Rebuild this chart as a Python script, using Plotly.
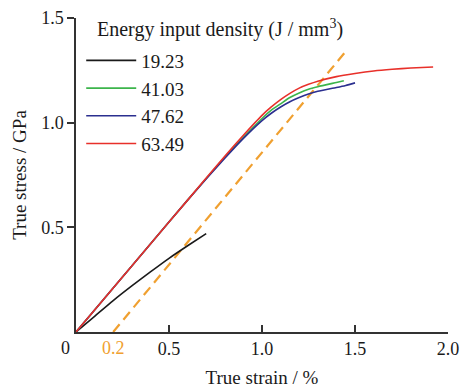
import plotly.graph_objects as go

legend_title = "Energy input density (J / mm<sup>3</sup>)"
series_names = ["19.23", "41.03", "47.62", "63.49"]
series_colors = ["#1a1a1a", "#3cb44b", "#2b2f8f", "#e8302a"]

x_1923 = [0, 0.1, 0.2, 0.3, 0.4, 0.5, 0.6, 0.7]
y_1923 = [0, 0.075, 0.15, 0.22, 0.287, 0.352, 0.412, 0.47]

x_4103 = [0, 0.2, 0.4, 0.6, 0.8, 0.9, 1.0, 1.05, 1.1, 1.15, 1.2, 1.25, 1.3, 1.4, 1.44]
y_4103 = [0, 0.21, 0.42, 0.63, 0.835, 0.93, 1.02, 1.06, 1.09, 1.12, 1.142, 1.16, 1.172, 1.192, 1.20]

x_4762 = [0, 0.2, 0.4, 0.6, 0.8, 0.9, 1.0, 1.05, 1.1, 1.15, 1.2, 1.25, 1.3, 1.4, 1.45, 1.5]
y_4762 = [0, 0.21, 0.42, 0.63, 0.83, 0.925, 1.01, 1.045, 1.075, 1.1, 1.12, 1.137, 1.15, 1.168, 1.178, 1.19]

x_6349 = [0, 0.2, 0.4, 0.6, 0.8, 0.9, 1.0, 1.05, 1.1, 1.15, 1.2, 1.25, 1.3, 1.4, 1.5, 1.6, 1.7, 1.8, 1.92]
y_6349 = [0, 0.21, 0.42, 0.63, 0.84, 0.94, 1.035, 1.075, 1.11, 1.14, 1.165, 1.183, 1.198, 1.22, 1.235, 1.247, 1.255, 1.261, 1.266]

offset_x = [0.2, 1.45]
offset_y = [0, 1.34]

xs = [x_1923, x_4103, x_4762, x_6349]
ys = [y_1923, y_4103, y_4762, y_6349]

font_family = "Liberation Serif, Times New Roman, serif"
axis_color = "#333333"
text_color = "#1a1a1a"

fig = go.Figure()
fig.add_trace(go.Scatter(x=offset_x, y=offset_y, mode="lines", showlegend=False,
                         line=dict(color="#f0a030", width=2.2, dash="10px,6px")))
for name, color, x, y in zip(series_names, series_colors, xs, ys):
    fig.add_trace(go.Scatter(x=x, y=y, mode="lines", name=name,
                             line=dict(color=color, width=1.6, shape="spline", smoothing=0.6)))

plot_w = 460 - 76 - 12
plot_h = 390 - 18 - 58

fig.update_layout(
    width=460, height=390,
    margin=dict(l=76, r=12, t=18, b=58, autoexpand=False),
    paper_bgcolor="white", plot_bgcolor="white",
    font=dict(family=font_family, size=18, color=text_color),
    legend=dict(x=0.014, y=0.925, xanchor="left", yanchor="top",
                font=dict(size=19), bgcolor="rgba(0,0,0,0)",
                itemwidth=50),
    xaxis=dict(range=[0, 2.0], tickvals=[0.5, 1.0, 1.5, 2.0],
               ticktext=["0.5", "1.0", "1.5", "2.0"],
               tickfont=dict(size=18),
               ticks="inside", ticklen=7, tickcolor=axis_color, tickwidth=1.5,
               showline=True, linecolor=axis_color, linewidth=1.5,
               showgrid=False, zeroline=False, automargin=False,
               title=dict(text="True strain / %", standoff=12, font=dict(size=19))),
    yaxis=dict(range=[0, 1.5], tickvals=[0.5, 1.0, 1.5],
               ticktext=["0.5", "1.0", "1.5"],
               tickfont=dict(size=18),
               ticks="outside", ticklen=7, tickcolor=axis_color, tickwidth=1.5,
               showline=True, linecolor=axis_color, linewidth=1.5,
               showgrid=False, zeroline=False, automargin=False,
               title=dict(text="True stress / GPa", standoff=10, font=dict(size=19))),
    annotations=[
        dict(x=(95 - 76) / plot_w, y=1 - (28 - 18) / plot_h, xref="paper", yref="paper",
             text=legend_title, showarrow=False, xanchor="left", yanchor="middle",
             font=dict(size=20)),
        dict(x=0, y=0, xref="x", yref="y", text="0", showarrow=False,
             xanchor="center", yanchor="top", xshift=-11, yshift=-4,
             font=dict(size=18)),
        dict(x=0.2, y=0, xref="x", yref="y", text="0.2", showarrow=False,
             xanchor="center", yanchor="top", yshift=-4,
             font=dict(size=18, color="#f0a030")),
    ],
)

fig.write_html("out.html")
